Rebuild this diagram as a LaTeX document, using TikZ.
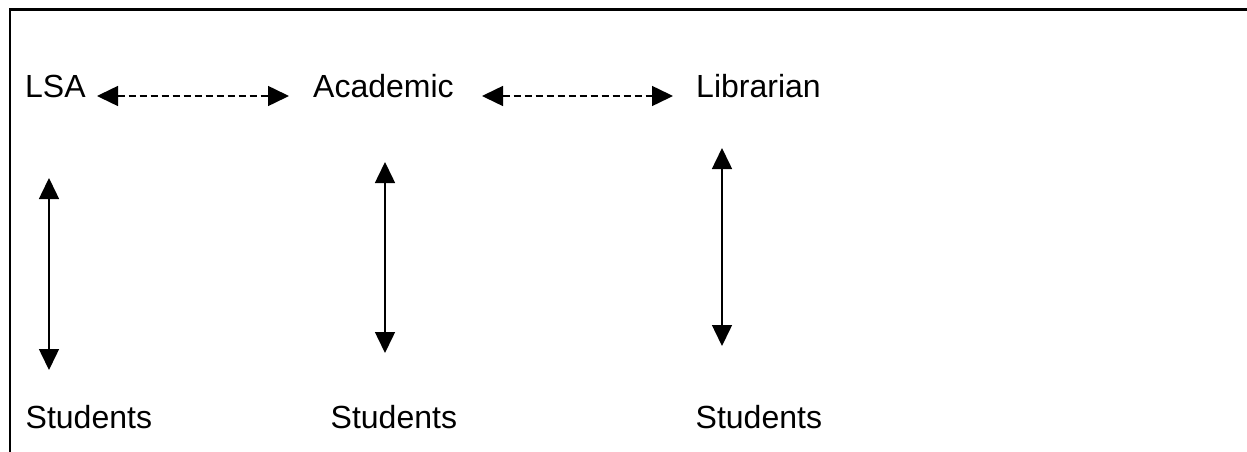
\documentclass[tikz,border=0pt]{standalone}
\usepackage{fontspec}
\setmainfont{Liberation Sans}
\usetikzlibrary{arrows.meta}
\tikzset{
  lbl/.style={inner sep=0pt, anchor=base west, font=\fontsize{32}{36}\selectfont},
  dbl/.style={line width=1.5pt, {Triangle[length=21pt,width=20pt]}-{Triangle[length=21pt,width=20pt]}},
  dsh/.style={dbl, dash pattern=on 7pt off 4pt},
  frame/.style={line width=2.2pt}
}
\begin{document}
\begin{tikzpicture}[x=1pt,y=-1pt]
\useasboundingbox (0,0) rectangle (1247,452);
\draw[frame] (1247,9.5) -- (10.3,9.5) -- (10.3,452);
\node[lbl] (lsa) at (25,97) {LSA};
\node[lbl] (acad) at (313,97) {Academic};
\node[lbl] (lib) at (696,97) {Librarian};
\node[lbl] (s1) at (25.5,428) {Students};
\node[lbl] (s2) at (330.5,428) {Students};
\node[lbl] (s3) at (695.5,428) {Students};
\coordinate (h1a) at (97,96);
\coordinate (h1b) at (289,96);
\coordinate (h2a) at (482,96);
\coordinate (h2b) at (673,96);
\coordinate (v1a) at (49,178);
\coordinate (v1b) at (49,370);
\coordinate (v2a) at (385,162);
\coordinate (v2b) at (385,353);
\coordinate (v3a) at (722,148);
\coordinate (v3b) at (722,346);
\draw[dsh] (h1a) -- (h1b);
\draw[dsh] (h2a) -- (h2b);
\draw[dbl] (v1a) -- (v1b);
\draw[dbl] (v2a) -- (v2b);
\draw[dbl] (v3a) -- (v3b);
\end{tikzpicture}
\end{document}
